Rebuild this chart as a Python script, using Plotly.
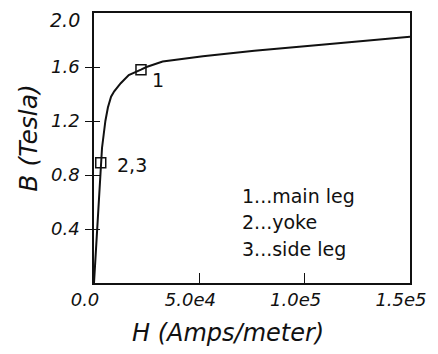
import plotly.graph_objects as go

# Magnetisation (B-H) curve of the core steel
H_curve = [0, 2750, 3200, 3800, 4600, 5400, 6600, 8100, 9600, 12700, 16500,
           20300, 22300, 24900, 28800, 32600, 51700, 76100, 108000, 150000]
B_curve = [0, 0.79, 0.89, 1.00, 1.10, 1.20, 1.30, 1.38, 1.42, 1.48, 1.54,
           1.57, 1.58, 1.60, 1.62, 1.64, 1.68, 1.72, 1.765, 1.825]

# Operating points of the core sections
H_points = [22300, 3200]
B_points = [1.58, 0.89]
point_labels = ["1", "2,3"]
label_shift_x = [9, 14]
label_shift_y = [-10, -2]

key_lines = ["1...main leg", "2...yoke", "3...side leg"]
key_y = [0.3235, 0.225, 0.125]

x_ticks = [0, 50000, 100000, 150000]
x_ticktext = ["0.0", "5.0e4", "1.0e5", "1.5e5"]
y_ticks = [0.4, 0.8, 1.2, 1.6]
y_ticktext = ["0.4", "0.8", "1.2", "1.6"]
y_top = 2.0

FONT = "DejaVu Sans"
INK = "#111111"

fig = go.Figure()
fig.add_trace(go.Scatter(x=H_curve, y=B_curve, mode="lines",
                         line=dict(color=INK, width=2), hoverinfo="skip"))
fig.add_trace(go.Scatter(x=H_points, y=B_points, mode="markers",
                         marker=dict(symbol="square-open", size=10,
                                     color=INK, line=dict(width=1.5, color=INK))))
# empty trace that carries the inner half of the y ticks
fig.add_trace(go.Scatter(x=[], y=[], yaxis="y2", showlegend=False))

annotations = []
for hx, by, txt, dx, dy in zip(H_points, B_points, point_labels,
                               label_shift_x, label_shift_y):
    annotations.append(dict(x=hx, y=by, xref="x", yref="y", text=txt,
                            showarrow=False, xanchor="left", yanchor="middle",
                            xshift=dx, yshift=dy,
                            font=dict(family=FONT, size=19, color=INK)))
for txt, yy in zip(key_lines, key_y):
    annotations.append(dict(x=0.462, y=yy, xref="paper", yref="paper", text=txt,
                            showarrow=False, xanchor="left", yanchor="middle",
                            font=dict(family=FONT, size=19, color=INK)))
annotations.append(dict(x=0, y=y_top, xref="paper", yref="y",
                        text=f"{y_top:.1f}", showarrow=False,
                        xanchor="right", yanchor="middle", xshift=-12, yshift=-7,
                        font=dict(family=FONT, size=19, color=INK, style="italic")))
annotations.append(dict(x=0.425, y=-0.184, xref="paper", yref="paper",
                        text="H (Amps/meter)", showarrow=False,
                        xanchor="center", yanchor="middle",
                        font=dict(family=FONT, size=24, color=INK, style="italic")))
annotations.append(dict(x=-0.21, y=0.537, xref="paper", yref="paper",
                        text="B (Tesla)", showarrow=False, textangle=-90,
                        xanchor="center", yanchor="middle",
                        font=dict(family=FONT, size=25, color=INK, style="italic")))

fig.update_layout(
    width=438, height=354,
    margin=dict(l=94, r=17, t=11, b=71),
    paper_bgcolor="white", plot_bgcolor="white",
    showlegend=False,
    annotations=annotations,
    xaxis=dict(range=[0, 150000], tickvals=x_ticks, ticktext=x_ticktext,
               ticks="inside", ticklen=10, tickwidth=1.3, tickcolor=INK,
               showline=True, linecolor=INK, linewidth=1.5, mirror=True,
               showgrid=False, zeroline=False, ticklabelshift=-9,
               tickfont=dict(family=FONT, size=18, color=INK, style="italic")),
    yaxis=dict(range=[0, 2.0], tickvals=y_ticks, ticktext=y_ticktext,
               ticks="outside", ticklen=7, tickwidth=1.3, tickcolor=INK,
               showline=True, linecolor=INK, linewidth=1.5, mirror=True,
               showgrid=False, zeroline=False, ticklabelstandoff=2,
               tickfont=dict(family=FONT, size=18, color=INK, style="italic")),
    yaxis2=dict(range=[0, 2.0], overlaying="y", side="left", tickvals=y_ticks,
                ticks="inside", ticklen=6, tickwidth=1.3, tickcolor=INK,
                showticklabels=False, showgrid=False, zeroline=False,
                showline=False),
)

fig.write_html("out.html")
